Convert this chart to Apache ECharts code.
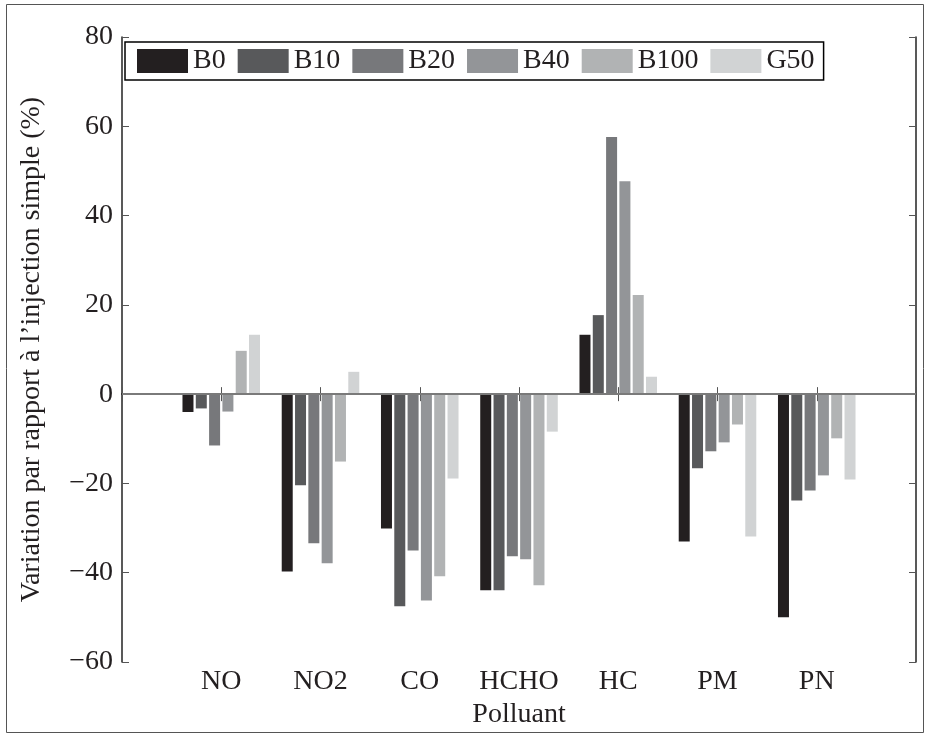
<!DOCTYPE html>
<html>
<head>
<meta charset="utf-8">
<script src="https://cdn.jsdelivr.net/npm/echarts@6/dist/echarts.min.js"></script>
<style>html,body{margin:0;padding:0;background:#fff}#c{width:926px;height:736px}</style>
</head>
<body>
<div id="c"></div>
<script>
const categories = ['NO', 'NO2', 'CO', 'HCHO', 'HC', 'PM', 'PN'];
const seriesNames = ['B0', 'B10', 'B20', 'B40', 'B100', 'G50'];
const B0   = [-4.0, -39.7, -30.1, -43.9, 13.3, -33.0, -50.0];
const B10  = [-3.2, -20.4, -47.5, -43.9, 17.7, -16.6, -23.8];
const B20  = [-11.5, -33.4, -35.0, -36.3, 57.6, -12.8, -21.6];
const B40  = [-3.9, -37.9, -46.2, -37.0, 47.7, -10.8, -18.2];
const B100 = [9.7, -15.1, -40.8, -42.8, 22.2, -6.8, -9.9];
const G50  = [13.3, 5.0, -18.9, -8.4, 3.9, -31.9, -19.1];
const yTicks = [-60, -40, -20, 0, 20, 40, 60, 80];

const colors = ['#231f20', '#58595b', '#77787b', '#939598', '#b1b3b4', '#d1d3d4'];
const values = [B0, B10, B20, B40, B100, G50];
const font = 'Liberation Serif';
const txt = '#231f20';
const fs = 28;

// pad categories so the axis spans [0, 8] with categories at 1..7
const axisCats = [''].concat(categories, ['']);

const series = values.map((v, i) => ({
  name: seriesNames[i],
  type: 'bar',
  data: [null].concat(v, [null]),
  barWidth: 11,
  barGap: '21%',
  itemStyle: { color: colors[i] },
  markLine: i === 0 ? {
    silent: true, symbol: 'none', label: { show: false },
    lineStyle: { color: '#7a7a7a', width: 2, type: 'solid' },
    data: [{ yAxis: 0 }]
  } : undefined
}));

const chart = echarts.init(document.getElementById('c'), null, { renderer: 'canvas' });
chart.setOption({
  animation: false,
  backgroundColor: '#fff',
  textStyle: { fontFamily: font },
  graphic: [{
    type: 'rect', shape: { x: 6.5, y: 4.5, width: 917, height: 728 },
    style: { fill: null, stroke: '#555', lineWidth: 1 }, silent: true
  }],
  legend: {
    left: 125, top: 42,
    orient: 'horizontal',
    data: seriesNames,
    icon: 'rect',
    itemWidth: 51, itemHeight: 24, itemGap: 12,
    borderColor: '#000', borderWidth: 1.5,
    padding: [5, 9, 5, 12],
    textStyle: { fontFamily: font, fontSize: fs, color: txt }
  },
  grid: { left: 122, right: 10, top: 37, bottom: 74, containLabel: false },
  xAxis: [{
    type: 'category', data: axisCats, boundaryGap: false, position: 'bottom',
    name: 'Polluant', nameLocation: 'middle', nameGap: 34,
    nameTextStyle: { fontFamily: font, fontSize: fs, color: txt },
    axisLine: { lineStyle: { color: '#222', width: 1.5 } },
    axisTick: { inside: true, length: 7, interval: 0, lineStyle: { color: '#555' } },
    axisLabel: { interval: 0, margin: 6, fontFamily: font, fontSize: fs, color: txt },
    splitLine: { show: false }
  }, {
    type: 'category', data: axisCats, boundaryGap: false, position: 'top',
    axisLine: { lineStyle: { color: '#222', width: 1.5 } },
    axisTick: { inside: true, length: 7, interval: 0, lineStyle: { color: '#555' } },
    axisLabel: { show: false }, splitLine: { show: false }
  }],
  yAxis: [{
    type: 'value', min: yTicks[0], max: yTicks[yTicks.length - 1], interval: 20,
    position: 'left',
    name: "Variation par rapport à l’injection simple (%)",
    nameLocation: 'middle', nameGap: 76, nameRotate: 90,
    nameTextStyle: { fontFamily: font, fontSize: fs, color: txt },
    axisLine: { show: true, lineStyle: { color: '#222', width: 1.5 } },
    axisTick: { show: true, inside: true, length: 7, lineStyle: { color: '#555' } },
    axisLabel: { margin: 9, fontFamily: font, fontSize: fs, color: txt,
      formatter: v => String(v).replace('-', '\u2212') },
    splitLine: { show: false }
  }, {
    type: 'value', min: yTicks[0], max: yTicks[yTicks.length - 1], interval: 20,
    position: 'right',
    axisLine: { show: true, lineStyle: { color: '#222', width: 1.5 } },
    axisTick: { show: true, inside: true, length: 7, lineStyle: { color: '#555' } },
    axisLabel: { show: false }, splitLine: { show: false }
  }],
  series: series
});
</script>
</body>
</html>
